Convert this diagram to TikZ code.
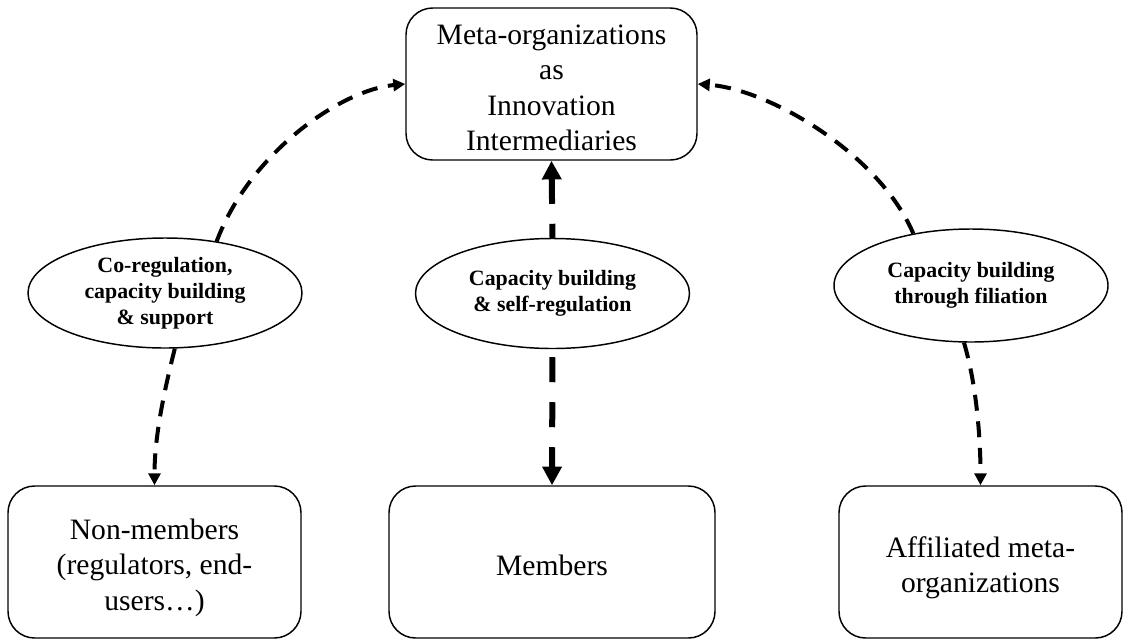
\documentclass[tikz,border=0pt]{standalone}
\usepackage{fontspec}
\setmainfont{Liberation Serif}
\usetikzlibrary{shapes.geometric,arrows.meta}
\newcommand{\topstrut}[1]{\rule{0pt}{#1}}
\begin{document}
\begin{tikzpicture}[x=0.75pt,y=-0.75pt,
  box/.style={draw, line width=1.1pt, rounded corners=20pt, align=center,
    font=\fontsize{22.2}{26.6}\selectfont, inner sep=0pt, minimum height=114pt},
  oval/.style={draw, ellipse, line width=1.1pt, align=center, inner sep=0pt,
    font=\fontsize{16.4}{19.5}\selectfont\bfseries, minimum width=205.5pt, minimum height=82.5pt},
  sidearrow/.style={line width=3pt, dash pattern=on 12pt off 8pt, -{Triangle[width=9pt,length=9pt]}},
  midarrow/.style={line width=4.5pt, dash pattern=on 18.75pt off 15pt, -{Triangle[width=14pt,length=14pt]}}
]
\useasboundingbox (0,0) rectangle (1124,640);

\node[box, minimum width=218.25pt] (top) at (551.5,84) {\topstrut{20.7pt}Meta-organizations\\as\\Innovation\\Intermediaries};

\node[box, minimum width=219.75pt] (nm) at (154.5,562) {\topstrut{24.2pt}Non-members\\(regulators, end-\\users\dots)};
\node[box, minimum width=244.5pt] (mem) at (552,562) {\topstrut{19.7pt}Members};
\node[box, minimum width=212.25pt] (aff) at (980.5,562) {\topstrut{24.2pt}Affiliated meta-\\organizations};

\node[oval] (e1) at (165,293) {Co-regulation,\\capacity building\\\& support};
\node[oval] (e2) at (552.5,293.5) {Capacity building\\\& self-regulation};
\node[oval, minimum height=84.75pt] (e3) at (971,285.5) {Capacity building\\through filiation};

% curved arrows to the top box
\draw[sidearrow] (e1.45) .. controls +(33,-88) and +(-65,6) .. (top.west);
\draw[sidearrow] (e3.138) .. controls +(-34,-80) and +(71,5) .. (top.east);

% middle arrows
\draw[midarrow, dash phase=8.25pt] (e2.north) -- (top.south);
\draw[midarrow, dash phase=27.75pt] (e2.south) -- (mem.north);

% down arrows to the side boxes
\draw[sidearrow] (e1.-80) .. controls +(-10,40) and +(0,-50) .. (nm.north);
\draw[sidearrow] (e3.-97) .. controls +(12,40) and +(0,-50) .. (aff.north);
\end{tikzpicture}
\end{document}
